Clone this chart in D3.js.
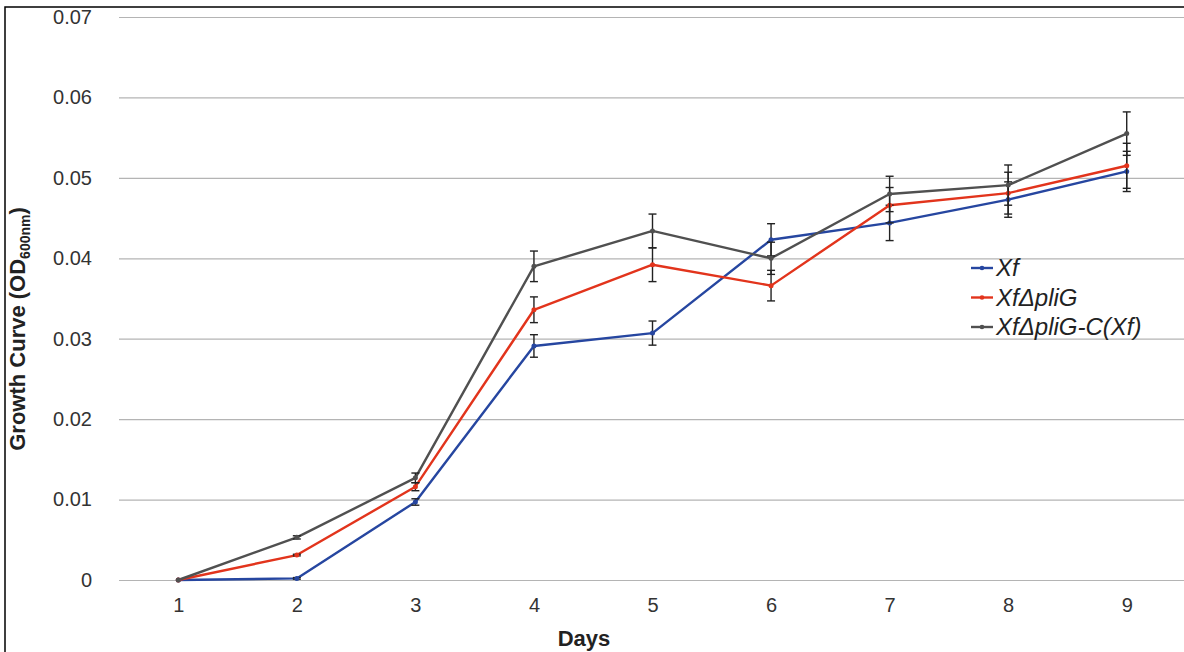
<!DOCTYPE html>
<html><head><meta charset="utf-8">
<script src="https://cdn.jsdelivr.net/npm/d3@7"></script>
<style>body{margin:0;background:#fff}svg{display:block;font-family:"Liberation Sans",Arial,sans-serif}</style>
</head><body><svg id="c" width="1184" height="652"></svg>
<script>
const days = [1,2,3,4,5,6,7,8,9];
const yTicks = [0,0.01,0.02,0.03,0.04,0.05,0.06,0.07];
const seriesNames = ["Xf","XfΔpliG","XfΔpliG-C(Xf)"];
const xfVals   = [0,0.0002,0.0097,0.0291,0.0307,0.0423,0.0444,0.0473,0.0508];
const xfErr    = [0,0.0001,0.0004,0.0014,0.0015,0.0020,0.0022,0.0022,0.0025];
const pliVals  = [0,0.0031,0.0116,0.0336,0.0392,0.0366,0.0466,0.0481,0.0515];
const pliErr   = [0,0.0001,0.0005,0.0016,0.0021,0.0019,0.0022,0.0026,0.0028];
const compVals = [0,0.0053,0.0127,0.0390,0.0434,0.0400,0.0480,0.0491,0.0555];
const compErr  = [0,0.0002,0.0006,0.0019,0.0021,0.0020,0.0022,0.0025,0.0027];
const colors = ["#2646a0","#e2341c","#505050"];

const svg = d3.select("#c");
const x = d3.scaleLinear().domain([0.5,9.5]).range([119,1186]);
const y = d3.scaleLinear().domain([0,0.07]).range([580,17]);

// frame
svg.append("rect").attr("x",5).attr("y",7).attr("width",1300).attr("height",800)
  .attr("fill","none").attr("stroke","#000").attr("stroke-width",1.5);

// grid
const yAxis = d3.axisLeft(y).tickValues(yTicks).tickSize(-(1186-119)).tickPadding(27)
  .tickFormat(d=> d===0 ? "0" : d3.format(".2f")(d));
const gy = svg.append("g").attr("transform","translate(119,0)").call(yAxis);
gy.select(".domain").remove();
gy.selectAll(".tick line").attr("stroke","#b4b4b4").attr("stroke-width",1.2);
gy.selectAll(".tick text").attr("fill","#333").attr("font-size",20);

const xAxis = d3.axisBottom(x).tickValues(days).tickSize(0).tickPadding(18).tickFormat(d3.format("d"));
const gx = svg.append("g").attr("transform","translate(0,580)").call(xAxis);
gx.select(".domain").remove();
gx.selectAll(".tick text").attr("fill","#333").attr("font-size",20);

// titles
svg.append("text").attr("x",584).attr("y",646).attr("text-anchor","middle")
  .attr("font-weight","bold").attr("font-size",22).attr("fill","#222").text("Days");
const yt = svg.append("text").attr("transform","translate(25,329) rotate(-90)").attr("text-anchor","middle")
  .attr("font-weight","bold").attr("font-size",22).attr("fill","#222");
yt.append("tspan").text("Growth Curve (OD");
yt.append("tspan").attr("font-size",14).attr("dy",5).text("600nm");
yt.append("tspan").attr("dy",-5).text(")");

const series = [
  {name:seriesNames[0], vals:xfVals, err:xfErr, color:colors[0]},
  {name:seriesNames[1], vals:pliVals, err:pliErr, color:colors[1]},
  {name:seriesNames[2], vals:compVals, err:compErr, color:colors[2]}
];
const line = d3.line().x((d,i)=>x(days[i])).y(d=>y(d));
series.forEach(s=>{
  svg.append("path").datum(s.vals).attr("d",line).attr("fill","none")
    .attr("stroke",s.color).attr("stroke-width",2.4).attr("stroke-linejoin","round");
});
series.forEach(s=>{
  const g = svg.append("g");
  s.vals.forEach((v,i)=>{
    const e = s.err[i]; if(!e) return;
    const cx = x(days[i]);
    g.append("line").attr("x1",cx).attr("x2",cx).attr("y1",y(v+e)).attr("y2",y(v-e)).attr("stroke","#222").attr("stroke-width",1.4);
    [v+e,v-e].forEach(t=>g.append("line").attr("x1",cx-4).attr("x2",cx+4).attr("y1",y(t)).attr("y2",y(t)).attr("stroke","#222").attr("stroke-width",1.4));
  });
  svg.selectAll(null).data(s.vals).enter().append("circle")
    .attr("cx",(d,i)=>x(days[i])).attr("cy",d=>y(d)).attr("r",2.5).attr("fill",s.color);
});

// legend
const lg = svg.append("g");
series.forEach((s,i)=>{
  const yy = 268 + i*29.5;
  lg.append("line").attr("x1",971).attr("x2",993).attr("y1",yy).attr("y2",yy).attr("stroke",s.color).attr("stroke-width",2.4);
  lg.append("circle").attr("cx",982).attr("cy",yy).attr("r",2.3).attr("fill",s.color);
  lg.append("text").attr("x",996).attr("y",yy+8).attr("font-size",24).attr("font-style","italic").attr("fill","#222").text(s.name);
});
</script></body></html>
